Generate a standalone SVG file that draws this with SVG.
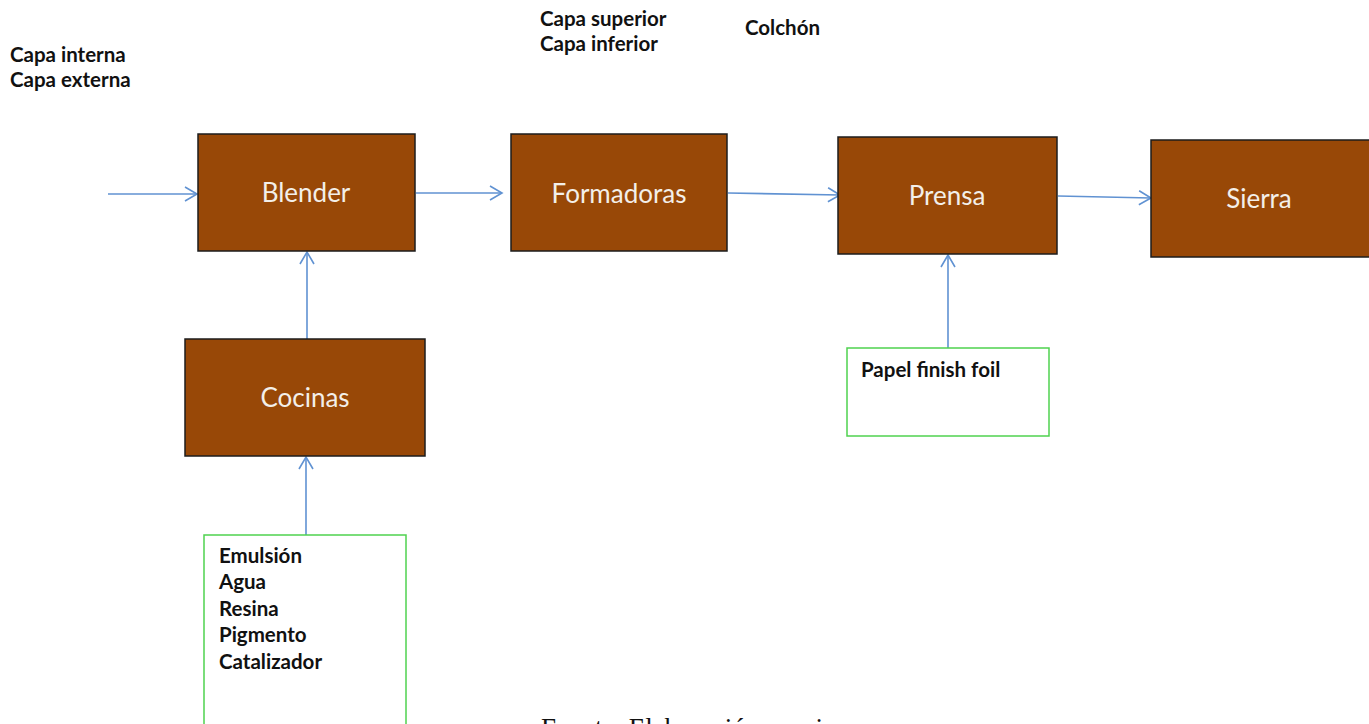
<svg xmlns="http://www.w3.org/2000/svg" width="1369" height="724" viewBox="0 0 1369 724">
  <style>
    .proc { fill: #984807; stroke: #1c1c1c; stroke-width: 1.5; }
    .ptxt { font-family: Lato, "Open Sans", "Liberation Sans", sans-serif; font-size: 26px; fill: #f3efe9; text-anchor: middle; }
    .inbox { fill: #ffffff; stroke: #4fd24f; stroke-width: 1.5; }
    .lbl { font-family: Lato, "Open Sans", "Liberation Sans", sans-serif; font-size: 20.5px; font-weight: bold; fill: #111111; }
    .conn { fill: none; stroke: #6092d2; stroke-width: 1.6; marker-end: url(#chev); }
    .note { font-family: "Liberation Serif", "Times New Roman", serif; font-size: 27px; fill: #111111; }
  </style>
  <defs>
    <marker id="chev" markerUnits="userSpaceOnUse" markerWidth="16" markerHeight="18" refX="13" refY="8" orient="auto">
      <path d="M1,1 L13,8 L1,15" fill="none" stroke="#6092d2" stroke-width="1.6"/>
    </marker>
  </defs>

  <rect width="1369" height="724" fill="#ffffff"/>

  <!-- layer labels -->
  <g id="lbl-capas-int-ext">
    <text class="lbl" x="10" y="62">Capa interna</text>
    <text class="lbl" x="10" y="87">Capa externa</text>
  </g>
  <g id="lbl-capas-sup-inf">
    <text class="lbl" x="540" y="26">Capa superior</text>
    <text class="lbl" x="540" y="51">Capa inferior</text>
  </g>
  <g id="lbl-colchon">
    <text class="lbl" x="745" y="35">Colchón</text>
  </g>

  <!-- connectors -->
  <g id="connectors">
    <line class="conn" x1="108" y1="194" x2="197" y2="194"/>
    <line class="conn" x1="416" y1="193" x2="502" y2="193"/>
    <line class="conn" x1="728" y1="193" x2="840" y2="195"/>
    <line class="conn" x1="1058" y1="196" x2="1151" y2="198"/>
    <line class="conn" x1="307" y1="339" x2="307" y2="252"/>
    <line class="conn" x1="306" y1="535" x2="306" y2="457"/>
    <line class="conn" x1="948" y1="348" x2="948" y2="255"/>
  </g>

  <!-- process steps -->
  <g id="blender">
    <rect class="proc" x="198" y="134" width="217" height="117"/>
    <text class="ptxt" x="306" y="202">Blender</text>
  </g>
  <g id="formadoras">
    <rect class="proc" x="511" y="134" width="216" height="117"/>
    <text class="ptxt" x="619" y="203">Formadoras</text>
  </g>
  <g id="prensa">
    <rect class="proc" x="838" y="137" width="219" height="117"/>
    <text class="ptxt" x="947" y="205">Prensa</text>
  </g>
  <g id="sierra">
    <rect class="proc" x="1151" y="140" width="220" height="117"/>
    <text class="ptxt" x="1259" y="208">Sierra</text>
  </g>
  <g id="cocinas">
    <rect class="proc" x="185" y="339" width="240" height="117"/>
    <text class="ptxt" x="305" y="407">Cocinas</text>
  </g>

  <!-- inputs -->
  <g id="papel">
    <rect class="inbox" x="847" y="348" width="202" height="88"/>
    <text class="lbl" x="861" y="377">Papel finish foil</text>
  </g>
  <g id="insumos">
    <rect class="inbox" x="204" y="535" width="202" height="200"/>
    <text class="lbl" x="219" y="563">Emulsión</text>
    <text class="lbl" x="219" y="589">Agua</text>
    <text class="lbl" x="219" y="616">Resina</text>
    <text class="lbl" x="219" y="642">Pigmento</text>
    <text class="lbl" x="219" y="669">Catalizador</text>
  </g>

  <!-- source note, running past the lower edge -->
  <text class="note" x="541" y="737">Fuente: Elaboración propia</text>
</svg>
